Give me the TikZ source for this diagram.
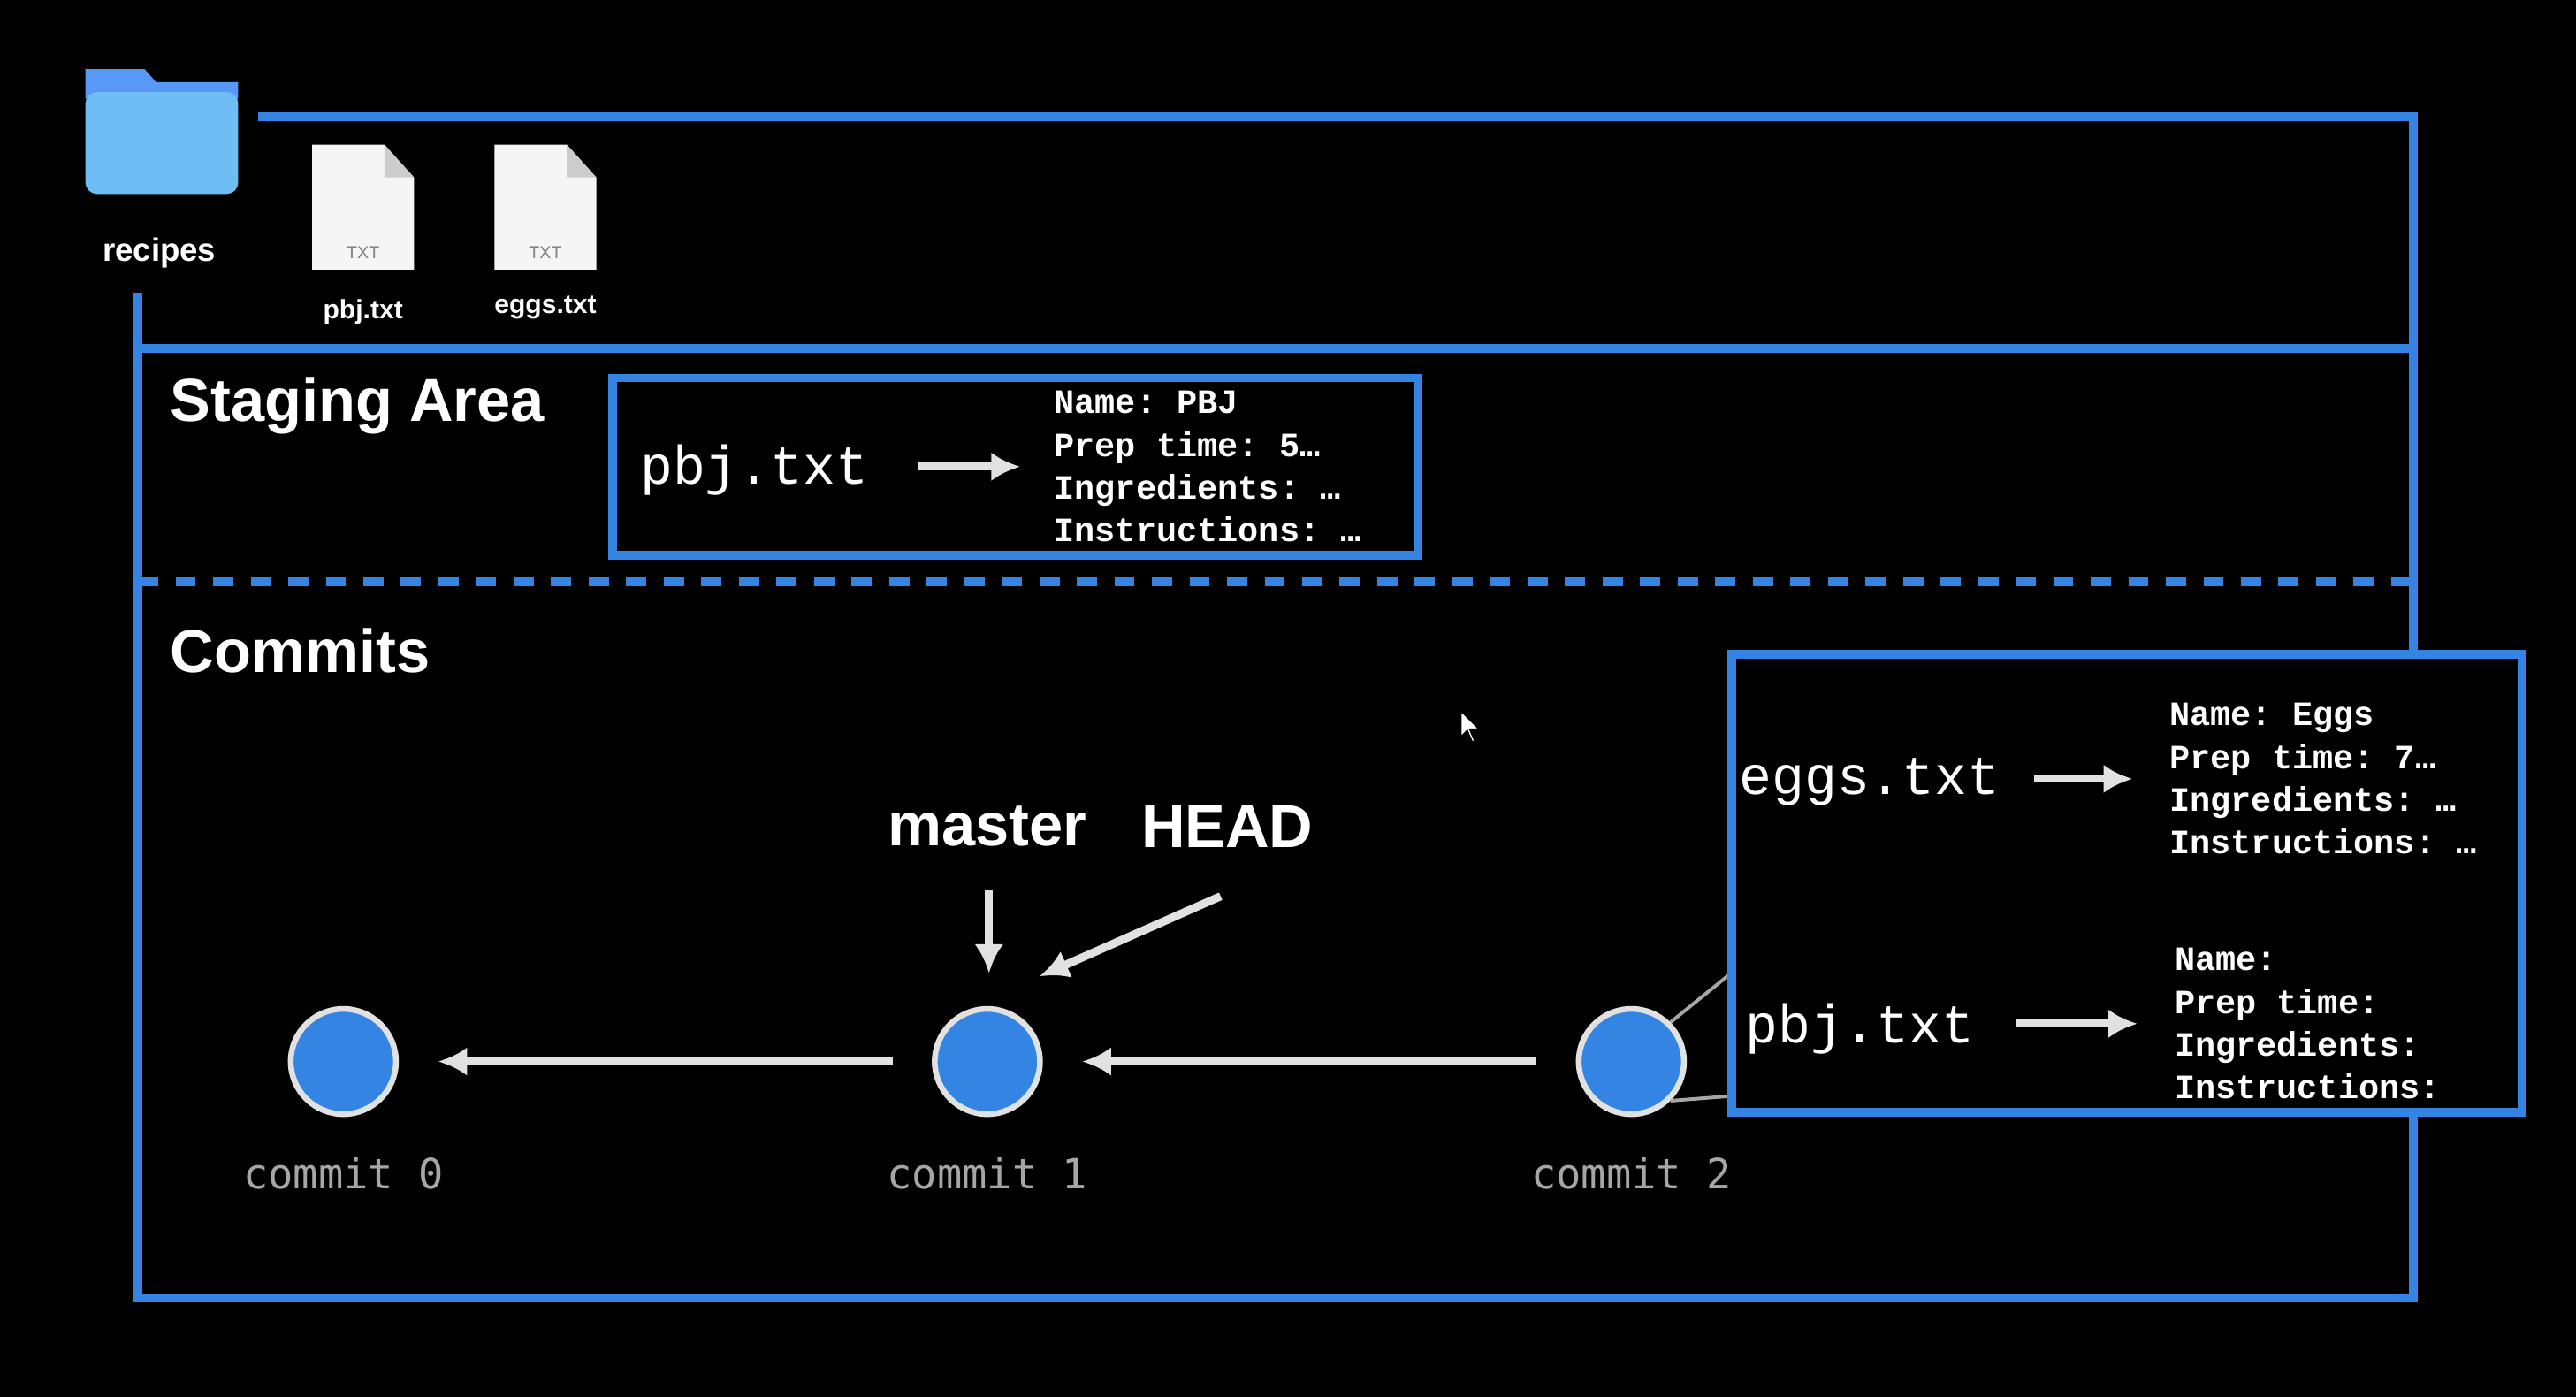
\documentclass[tikz,border=0pt]{standalone}
\usepackage{fontspec}
\setmainfont{Liberation Sans}
\setmonofont{Liberation Mono}
\newfontfamily\menlo{DejaVu Sans Mono}
\usetikzlibrary{arrows.meta,calc}
\definecolor{gitblue}{RGB}{52,132,228}
\definecolor{folderblue}{RGB}{110,190,245}
\definecolor{arrowgray}{RGB}{225,225,225}
\tikzset{
  frame/.style={draw=gitblue, line width=1.5pt},
  title/.style={white, anchor=west, inner sep=0pt, font=\fontsize{10.5}{12}\selectfont\bfseries},
  fname/.style={white, anchor=west, inner sep=0pt, font=\fontsize{9.4}{11}\selectfont\ttfamily},
  info/.style={white, anchor=west, inner sep=0pt, align=left, font=\fontsize{5.9}{7.4}\selectfont\ttfamily\bfseries},
  commit/.style={circle, minimum size=0.64cm, inner sep=0pt, fill=gitblue, draw=arrowgray, line width=1pt},
  clabel/.style={gray!70, font=\fontsize{7.2}{8}\selectfont\menlo},
  ptr/.style={-{Latex[length=5pt,width=5pt]}, arrowgray, line width=1.4pt},
  small/.style={white, font=\fontsize{5}{6}\selectfont\bfseries}
}
\begin{document}
\begin{tikzpicture}[x=0.01cm, y=-0.01cm]
		\fill[black] (0,0) rectangle (1568,850);
		\useasboundingbox (0,0) rectangle (1568,850);
		% folder and files
		\fill[folderblue!80!blue] (52,48) -- (52,42) -- (88,42) -- (95,50) -- (145,50) -- (145,60) -- (52,60) -- cycle;
		\fill[folderblue, rounded corners=2pt] (52,56) rectangle (145,118);
		\node[small, font=\fontsize{5.6}{7}\selectfont\bfseries] (recipes) at (97,154) {recipes};
		\foreach \x/\y in {221/88, 332/88} {
			\fill[white!92!gray] (\x-31,\y) -- (\x+13,\y) -- (\x+31,\y+20) -- (\x+31,\y+76) -- (\x-31,\y+76) -- cycle;
			\fill[gray!40] (\x+13,\y) -- (\x+13,\y+20) -- (\x+31,\y+20) -- cycle;
			\node[gray, font=\fontsize{3}{4}\selectfont] at (\x,\y+66) {TXT};
		}
		\node[small, font=\fontsize{4.6}{6}\selectfont\bfseries] (pbjicon) at (221,190) {pbj.txt};
		\node[small, font=\fontsize{4.6}{6}\selectfont\bfseries] (eggsicon) at (332,187) {eggs.txt};
		% working directory frame
		\draw[frame] (157,71) -- (1469,71) -- (1469,790) -- (84,790) -- (84,178);
		\draw[frame] (84,212) -- (1469,212);
		\draw[frame, dash pattern=on 3.5pt off 3pt] (84,354) -- (1469,354);
		% staging area
		\node[title] (staging) at (103,247) {Staging Area};
		\draw[frame] (373,230) rectangle (863,338);
		\node[fname] (stfile) at (389,286) {pbj.txt};
		\node[info] (stinfo) at (641,284) {Name: PBJ\\Prep time: 5…\\Ingredients: …\\Instructions: …};
		\draw[ptr] ($(stfile.east)+(30,-2)$) -- ($(stinfo.west)+(-20,0)$);
		% commits
		\node[title] (commits) at (103,396) {Commits};
		\node[commit] (c0) at (209,646) {};
		\node[commit] (c1) at (601,646) {};
		\node[commit] (c2) at (993,646) {};
		\node[clabel] at (209,714) {commit 0};
		\node[clabel] at (601,714) {commit 1};
		\node[clabel] at (993,714) {commit 2};
		\draw[ptr] ($(c1.west)+(-24,0)$) -- ($(c0.east)+(24,0)$);
		\draw[ptr] ($(c2.west)+(-24,0)$) -- ($(c1.east)+(24,0)$);
		\node[title, anchor=center] (master) at (601,503) {master};
		\node[title, anchor=center] (head) at (747,503) {HEAD};
		\draw[ptr] ($(master.south)+(1,26)$) -- ($(c1.north)+(1,-20)$);
		\draw[ptr] ($(head.south)+(-4,29)$) -- ($(c1.north east)+(8,-28)$);
		% snapshot of commit 2
		\draw[gray!70, line width=0.6pt] (c2.north east) -- (1054,592);
		\draw[gray!70, line width=0.6pt] (c2.south east) -- (1054,667);
		\draw[frame, fill=black] (1054,398) rectangle (1535,677);
		\node[fname] (eggsfile) at (1058,476) {eggs.txt};
		\node[info] (eggsinfo) at (1320,474) {Name: Eggs\\Prep time: 7…\\Ingredients: …\\Instructions: …};
		\draw[ptr] ($(eggsfile.east)+(20,-2)$) -- ($(eggsinfo.west)+(-22,0)$);
		\node[fname] (pbjfile) at (1062,626) {pbj.txt};
		\node[info] (pbjinfo) at (1323,623) {Name:\\Prep time:\\Ingredients:\\Instructions:};
		\draw[ptr] ($(pbjfile.east)+(25,-3)$) -- ($(pbjinfo.west)+(-22,0)$);
		% cursor
		\draw[black, fill=white, line width=0.4pt] (889,432) -- (889,449) -- (893,445) -- (896,452) -- (898,451) -- (895,444) -- (901,444) -- cycle;
	\end{tikzpicture}
\end{document}
